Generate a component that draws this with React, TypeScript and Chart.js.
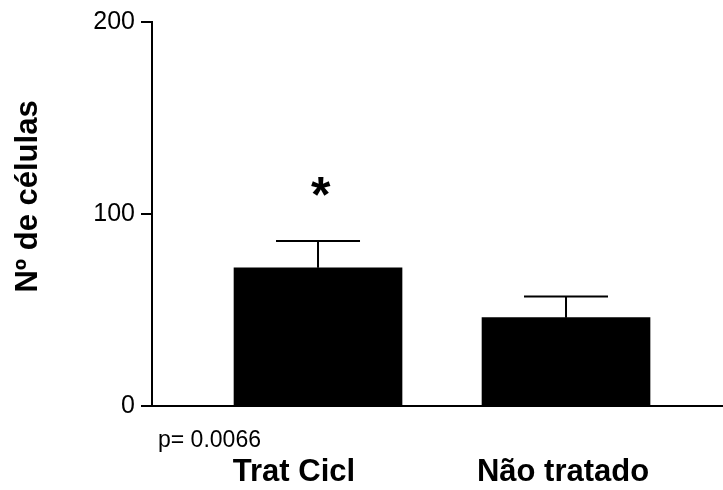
import React, { useEffect, useRef } from "react";
import { Chart, registerables } from "chart.js";

Chart.register(...registerables);

// ---- data ----
const categories = ["Trat Cicl", "Não tratado"];
const means = [72, 46];
const sem = [14, 11];
const yTicks = [0, 100, 200];
const yTitle = "Nº de células";
const pText = "p= 0.0066";
const sigMark = "*";

const FONT = "'Liberation Sans', Arial, Helvetica, sans-serif";

export default function App() {
  const ref = useRef<HTMLCanvasElement>(null);

  useEffect(() => {
    if (!ref.current) return;

    const extras = {
      id: "extras",
      afterDatasetsDraw(chart: any) {
        const { ctx, chartArea } = chart;
        const y = chart.scales.y;
        const meta = chart.getDatasetMeta(0);
        ctx.save();
        ctx.strokeStyle = "#000";
        ctx.lineWidth = 2;
        meta.data.forEach((bar: any, i: number) => {
          const top = y.getPixelForValue(means[i] + sem[i]);
          const half = bar.width / 4;
          ctx.beginPath();
          ctx.moveTo(bar.x, bar.y);
          ctx.lineTo(bar.x, top);
          ctx.moveTo(bar.x - half, top);
          ctx.lineTo(bar.x + half, top);
          ctx.stroke();
        });

        // significance asterisk above first bar
        const b0: any = meta.data[0];
        const capY = y.getPixelForValue(means[0] + sem[0]);
        const cx = b0.x + 3;
        const cy = capY - 54.7;
        ctx.font = `bold 100px ${FONT}`;
        let m = ctx.measureText(sigMark);
        const h100 = m.actualBoundingBoxAscent + m.actualBoundingBoxDescent;
        const size = (19 / h100) * 100;
        ctx.font = `bold ${size}px ${FONT}`;
        m = ctx.measureText(sigMark);
        ctx.fillStyle = "#000";
        ctx.textAlign = "left";
        ctx.textBaseline = "alphabetic";
        const gx = cx - (m.actualBoundingBoxRight - m.actualBoundingBoxLeft) / 2;
        const gy = cy - (m.actualBoundingBoxDescent - m.actualBoundingBoxAscent) / 2;
        ctx.fillText(sigMark, gx, gy);

        // p value
        ctx.font = `23px ${FONT}`;
        ctx.fillText(pText, chartArea.left + 6, chartArea.bottom + 40.5);

        // y title
        ctx.save();
        ctx.translate(chartArea.left - 115, (chartArea.top + chartArea.bottom) / 2 - 17.5);
        ctx.rotate(-Math.PI / 2);
        ctx.textAlign = "center";
        ctx.textBaseline = "alphabetic";
        ctx.font = `bold 31px ${FONT}`;
        ctx.fillText(yTitle, 0, 0);
        ctx.restore();

        ctx.restore();
      },
    };

    const labelShift = [-0.097, -0.012];

    const chart = new Chart(ref.current, {
      type: "bar",
      data: {
        datasets: [
          {
            data: means.map((v, i) => ({ x: i + 1, y: v })),
            backgroundColor: "#000",
            borderWidth: 0,
            barThickness: 168,
          },
        ],
      },
      options: {
        animation: false,
        responsive: true,
        maintainAspectRatio: false,
        layout: { padding: { top: 22, right: 0, left: 0, bottom: 0 } },
        plugins: {
          legend: { display: false },
          tooltip: { enabled: false },
        },
        scales: {
          x: {
            type: "linear",
            min: 0.3306,
            max: 2.633,
            offset: false,
            grid: { display: false, offset: false },
            border: { display: true, color: "#000", width: 2 },
            afterBuildTicks: (scale: any) => {
              scale.ticks = categories.map((_, i) => ({ value: i + 1 + labelShift[i] }));
            },
            afterFit: (scale: any) => {
              scale.height = 84;
            },
            ticks: {
              autoSkip: false,
              maxRotation: 0,
              color: "#000",
              padding: 40,
              font: { family: FONT, size: 31, weight: "bold" },
              callback: (_v: any, i: number) => categories[i],
            },
          },
          y: {
            min: 0,
            max: 200,
            afterBuildTicks: (scale: any) => {
              scale.ticks = yTicks.map((v) => ({ value: v }));
            },
            afterFit: (scale: any) => {
              scale.width = 152;
            },
            grid: {
              display: true,
              drawOnChartArea: false,
              drawTicks: true,
              tickLength: 11,
              color: "#000",
              lineWidth: 2,
            },
            border: { display: true, color: "#000", width: 2 },
            ticks: {
              color: "#000",
              padding: 6,
              font: { family: FONT, size: 25 },
            },
          },
        },
      },
      plugins: [extras],
    });

    return () => chart.destroy();
  }, []);

  return (
    <div style={{ position: "absolute", left: 0, top: 0, width: 723, height: 490, background: "#fff" }}>
      <canvas ref={ref} />
    </div>
  );
}
